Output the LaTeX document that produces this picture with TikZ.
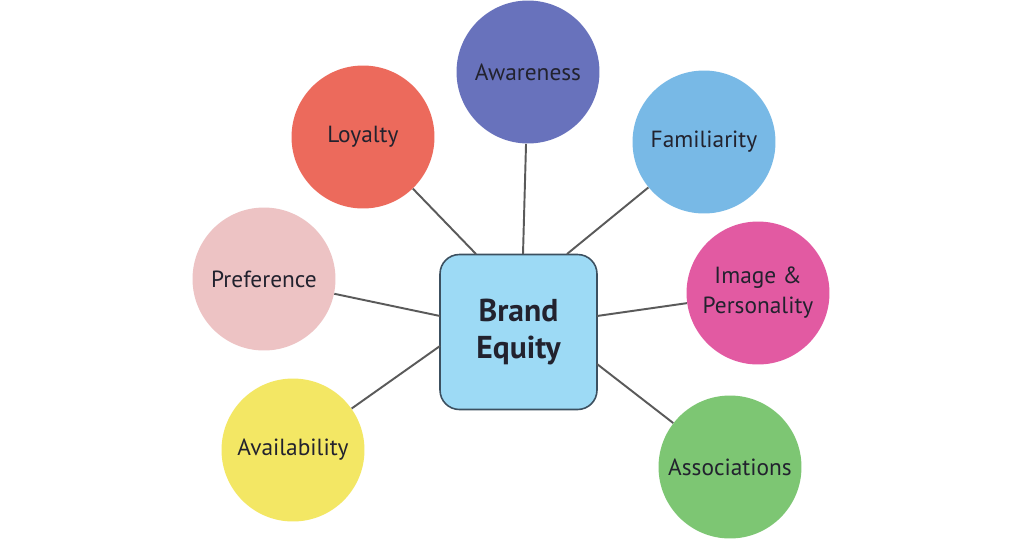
\documentclass[tikz,border=0pt]{standalone}
\usepackage{fontspec}
\setmainfont{PT Sans}
\usetikzlibrary{positioning, calc}
\definecolor{Canvas}{HTML}{FFFFFF}
\definecolor{Line}{HTML}{5A5A5A}
\definecolor{Text}{HTML}{22222E}
\definecolor{Edge}{HTML}{3C5060}
\definecolor{Sky}{HTML}{9DDAF5}
\definecolor{Indigo}{HTML}{6872BC}
\definecolor{Coral}{HTML}{EC6A5C}
\definecolor{Azure}{HTML}{78B9E6}
\definecolor{Blush}{HTML}{EDC3C4}
\definecolor{Magenta}{HTML}{E25AA2}
\definecolor{Lemon}{HTML}{F3E764}
\definecolor{Leaf}{HTML}{7DC673}

\begin{document}
\begin{tikzpicture}[
  x=0.02cm, y=-0.02cm,
  font=\fontsize{13.3}{17}\selectfont,
  bubble/.style={
    circle,
    draw=none,
    align=center,
    text=Text,
    inner sep=0pt,
    minimum size=2.86cm
  },
  hub/.style={
    rounded corners=11pt,
    draw=Edge,
    line width=0.9pt,
    fill=Sky,
    align=center,
    text=Text,
    font=\fontsize{18}{21}\selectfont\bfseries,
    minimum width=3.14cm,
    minimum height=3.1cm
  },
  spoke/.style={
    line width=1.1pt,
    draw=Line
  }
]

\fill[Canvas] (0,0) rectangle (1024,538);
\useasboundingbox (0,0) rectangle (1024,538);

\node[hub] (equity) at (518.5,332) {Brand\\Equity};

\node[bubble, fill=Indigo]  (aware)  at (528,72)  {Awareness};
\node[bubble, fill=Coral]   (loyal)  at (363,137) {Loyalty};
\node[bubble, fill=Azure]   (famil)  at (704,142) {Familiarity};
\node[bubble, fill=Blush]   (prefer) at (264,279) {Preference};
\node[bubble, fill=Magenta] (image)  at (758,293) {Image \&\\Personality};
\node[bubble, fill=Lemon]   (avail)  at (293,450) {Availability};
\node[bubble, fill=Leaf]    (assoc)  at (730,467) {Associations};

% where the spokes meet the box
\coordinate (pA) at (523,254);
\coordinate (pL) at (476,254);
\coordinate (pF) at (567,254);
\coordinate (pP) at (440,316);
\coordinate (pI) at (597,316);
\coordinate (pV) at (440,346);
\coordinate (pS) at (597,364);

\draw[spoke] (aware)  -- (pA);
\draw[spoke] (loyal)  -- (pL);
\draw[spoke] (famil)  -- (pF);
\draw[spoke] (prefer) -- (pP);
\draw[spoke] (image)  -- (pI);
\draw[spoke] (avail)  -- (pV);
\draw[spoke] (assoc)  -- (pS);

\end{tikzpicture}
\end{document}
